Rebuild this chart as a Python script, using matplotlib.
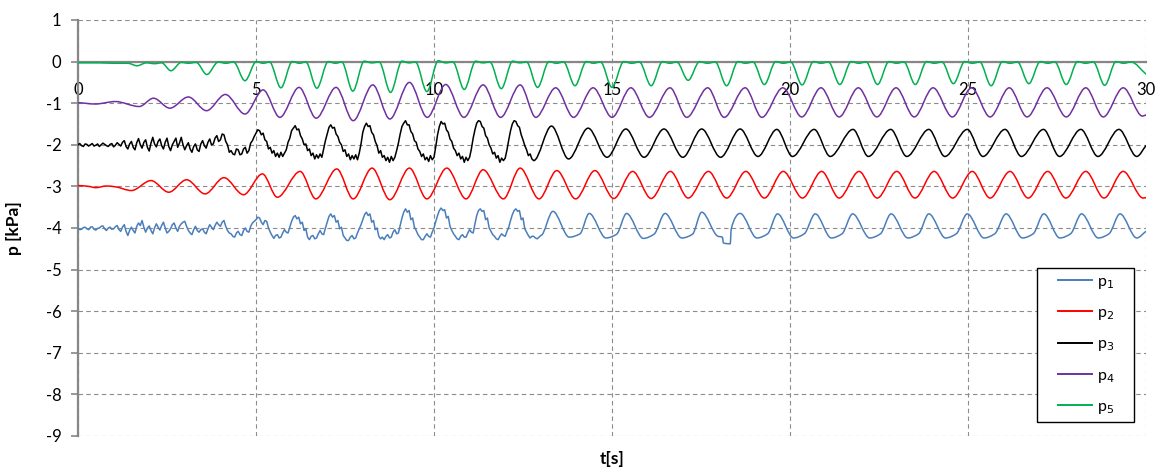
import numpy as np
import matplotlib
matplotlib.use("Agg")
import matplotlib.pyplot as plt
from matplotlib.path import Path
from matplotlib.patches import PathPatch
from matplotlib.lines import Line2D
from matplotlib.legend_handler import HandlerLine2D

plt.rcParams['font.family'] = ['Lato', 'DejaVu Sans']
plt.rcParams['axes.unicode_minus'] = False

# ---------------- data ----------------
SERIES_NAMES = ['p$_1$', 'p$_2$', 'p$_3$', 'p$_4$', 'p$_5$']
SERIES_COLORS = ['#4a7ebb', '#ff0000', '#000000', '#7030a0', '#00b050']

X_TICKS = [0, 5, 10, 15, 20, 25, 30]
Y_TICKS = [1, 0, -1, -2, -3, -4, -5, -6, -7, -8, -9]

# p3 (black): noisy record sampled every 0.05 s from 0 to 12.8 s
p3_noise_t0, p3_noise_dt = 0.0, 0.05
p3_noise_v = [
    -2.00, -1.97, -2.02, -2.04, -1.98, -1.99, -2.03, -2.00, -1.97, -2.03, -2.01, -1.98, -2.04, -2.00, -1.96, -1.99, -2.02, -2.04, -1.99, -1.97,
    -2.05, -2.01, -1.95, -1.99, -2.03, -1.94, -1.90, -2.04, -2.10, -1.98, -1.92, -2.06, -2.12, -1.95, -1.85, -2.00, -2.08, -1.94, -1.88, -2.06,
    -2.15, -1.96, -1.82, -1.98, -2.05, -1.92, -1.86, -2.02, -2.10, -1.94, -1.84, -2.04, -2.14, -2.00, -1.92, -1.84, -2.06, -1.96, -1.82, -2.00,
    -2.12, -2.02, -1.95, -2.10, -2.18, -2.04, -1.98, -2.12, -2.16, -1.98, -1.90, -2.02, -2.08, -1.94, -1.86, -2.00, -1.98, -1.84, -1.78, -1.92,
    -1.88, -1.74, -1.76, -1.92, -2.00, -2.18, -2.14, -2.22, -2.24, -2.10, -2.12, -2.24, -2.22, -2.10, -2.06, -2.20, -2.14, -1.96, -1.90, -1.80,
    -1.72, -1.64, -1.66, -1.76, -1.72, -1.88, -1.92, -2.10, -2.06, -2.20, -2.14, -2.28, -2.20, -2.30, -2.18, -2.28, -2.20, -2.12, -1.94, -1.84,
    -1.66, -1.60, -1.54, -1.64, -1.62, -1.78, -1.86, -2.00, -1.98, -2.14, -2.10, -2.26, -2.20, -2.34, -2.24, -2.32, -2.22, -2.30, -2.10, -1.90,
    -1.74, -1.58, -1.52, -1.60, -1.58, -1.74, -1.80, -1.94, -2.00, -2.16, -2.12, -2.28, -2.22, -2.36, -2.26, -2.34, -2.24, -2.36, -2.20, -1.98,
    -1.70, -1.56, -1.48, -1.56, -1.54, -1.70, -1.76, -1.92, -2.02, -2.20, -2.14, -2.30, -2.26, -2.38, -2.30, -2.42, -2.28, -2.38, -2.30, -2.14,
    -1.96, -1.74, -1.56, -1.48, -1.42, -1.52, -1.52, -1.68, -1.74, -1.90, -1.94, -2.10, -2.16, -2.28, -2.22, -2.36, -2.30, -2.40, -2.26, -2.36,
    -2.30, -2.04, -1.76, -1.56, -1.44, -1.50, -1.48, -1.64, -1.70, -1.86, -1.92, -2.08, -2.14, -2.26, -2.20, -2.34, -2.28, -2.42, -2.30, -2.38,
    -2.30, -2.10, -1.84, -1.64, -1.48, -1.42, -1.44, -1.56, -1.60, -1.78, -1.84, -2.00, -2.08, -2.22, -2.18, -2.32, -2.26, -2.42, -2.32, -2.38,
    -2.32, -2.12, -1.88, -1.66, -1.50, -1.42, -1.44, -1.54, -1.58, -1.76, -1.88, -2.02, -2.12, -2.26, -2.22, -2.34, -2.38]
# p3 smooth part: peaks / troughs
p3_t = [13.30, 13.78, 14.33, 14.86, 15.39, 15.90, 16.46, 16.99, 17.52, 18.05,
        18.60, 19.10, 19.63, 20.07, 20.68, 21.13, 21.77, 22.20, 22.83, 23.28,
        23.90, 24.35, 24.98, 25.42, 26.04, 26.50, 27.12, 27.57, 28.17, 28.65,
        29.24, 29.74, 30.00]
p3_v = [-1.55, -2.34, -1.60, -2.30, -1.62, -2.30, -1.62, -2.30, -1.62, -2.30,
        -1.62, -2.28, -1.63, -2.28, -1.63, -2.28, -1.63, -2.28, -1.63, -2.28,
        -1.63, -2.28, -1.63, -2.28, -1.63, -2.28, -1.63, -2.28, -1.63, -2.28,
        -1.63, -2.28, -2.02]

# p1 (blue): noisy record sampled every 0.05 s from 0 to 13.0 s
p1_noise_t0, p1_noise_dt = 0.0, 0.05
p1_noise_v = [
    -4.00, -4.04, -4.03, -3.99, -3.98, -4.02, -4.04, -3.98, -3.97, -4.03, -4.05, -4.01, -4.00, -3.96, -3.95, -4.02, -4.06, -4.00, -3.98, -4.03,
    -4.02, -3.97, -3.94, -4.04, -4.08, -3.98, -3.92, -4.08, -4.18, -4.06, -3.98, -4.06, -4.12, -3.96, -3.88, -3.94, -3.82, -3.98, -4.10, -4.00,
    -3.95, -4.06, -4.14, -4.00, -3.90, -3.98, -4.05, -3.94, -3.86, -4.00, -4.12, -4.08, -4.02, -3.92, -3.88, -4.00, -4.08, -3.96, -3.90, -3.86,
    -3.84, -3.96, -4.06, -4.12, -4.16, -4.04, -3.96, -4.06, -4.10, -4.04, -4.02, -4.10, -4.14, -4.02, -3.92, -3.98, -4.04, -3.94, -3.86, -3.92,
    -3.96, -3.86, -3.82, -3.96, -4.06, -4.12, -4.14, -4.20, -4.22, -4.12, -4.08, -4.16, -4.18, -4.06, -4.00, -4.08, -4.10, -3.96, -3.88, -3.84,
    -3.80, -3.74, -3.76, -3.86, -3.92, -3.82, -3.84, -4.00, -4.10, -4.18, -4.25, -4.18, -4.16, -4.24, -4.22, -4.12, -4.04, -4.10, -4.12, -3.98,
    -3.84, -3.74, -3.70, -3.78, -3.74, -3.90, -3.86, -4.06, -4.02, -4.22, -4.28, -4.20, -4.18, -4.26, -4.24, -4.14, -4.06, -4.14, -4.16, -4.00,
    -3.86, -3.72, -3.66, -3.74, -3.70, -3.86, -3.82, -4.02, -3.98, -4.18, -4.24, -4.30, -4.30, -4.22, -4.18, -4.26, -4.24, -4.12, -4.02, -3.92,
    -3.80, -3.68, -3.62, -3.70, -3.66, -3.86, -3.82, -4.04, -4.00, -4.20, -4.26, -4.22, -4.28, -4.20, -4.16, -4.24, -4.22, -4.10, -4.04, -4.14,
    -4.12, -3.94, -3.76, -3.62, -3.54, -3.62, -3.58, -3.80, -3.76, -3.98, -4.06, -4.16, -4.22, -4.28, -4.28, -4.20, -4.14, -4.20, -4.22, -4.10,
    -4.00, -3.84, -3.70, -3.58, -3.52, -3.58, -3.56, -3.76, -3.72, -3.96, -4.06, -4.14, -4.20, -4.26, -4.28, -4.20, -4.16, -4.22, -4.22, -4.12,
    -4.04, -4.10, -4.12, -3.90, -3.70, -3.58, -3.54, -3.60, -3.58, -3.80, -3.76, -4.00, -4.08, -4.16, -4.20, -4.26, -4.28, -4.20, -4.14, -4.18,
    -4.20, -4.08, -3.98, -3.82, -3.68, -3.58, -3.54, -3.60, -3.58, -3.80, -3.76, -4.02, -4.10, -4.18, -4.24, -4.20, -4.20, -4.24, -4.26, -4.22,
    -4.18]
# p1 smooth part: peak, trough, shoulder ...
p1_t = [13.34, 13.80, 14.10, 14.36, 14.83, 15.13, 15.41, 15.88, 16.18, 16.49,
        16.96, 17.26, 17.52, 17.98, 18.10, 18.13, 18.32, 18.35, 18.60, 19.07,
        19.37, 19.65, 20.10, 20.40, 20.71, 21.16, 21.46, 21.76, 22.24, 22.54,
        22.84, 23.31, 23.61, 23.90, 24.37, 24.67, 24.98, 25.45, 25.75, 26.07,
        26.53, 26.83, 27.13, 27.58, 27.88, 28.19, 28.66, 28.96, 29.27, 29.74,
        30.00]
p1_v = [-3.60, -4.22, -4.14, -3.65, -4.24, -4.15, -3.65, -4.25, -4.15, -3.65,
        -4.24, -4.15, -3.62, -4.20, -4.22, -4.36, -4.38, -4.02, -3.65, -4.24,
        -4.14, -3.66, -4.24, -4.14, -3.66, -4.24, -4.14, -3.66, -4.24, -4.14,
        -3.66, -4.24, -4.14, -3.66, -4.24, -4.14, -3.66, -4.24, -4.14, -3.66,
        -4.24, -4.14, -3.66, -4.24, -4.14, -3.66, -4.24, -4.14, -3.66, -4.24,
        -4.08]

# p2 (red): peaks / troughs
p2_t = [0.00, 0.30, 0.50, 0.80, 1.05, 1.50, 2.05, 2.55, 3.05, 3.57, 4.10, 4.65,
        5.18, 5.60, 6.24, 6.68, 7.27, 7.73, 8.26, 8.76, 9.31, 9.80,
        10.36, 10.90, 11.38, 11.95, 12.42, 12.95, 13.45, 13.98, 14.52, 15.05,
        15.58, 16.10, 16.64, 17.14, 17.71, 18.22, 18.76, 19.28, 19.81, 20.35,
        20.89, 21.38, 21.94, 22.45, 23.00, 23.51, 24.05, 24.57, 25.12, 25.62,
        26.18, 26.69, 27.24, 27.75, 28.31, 28.82, 29.36, 29.92, 30.00]
p2_v = [-2.98, -3.00, -3.03, -2.99, -3.01, -3.10, -2.86, -3.14, -2.84, -3.18, -2.79, -3.20,
        -2.70, -3.26, -2.64, -3.30, -2.58, -3.30, -2.56, -3.32, -2.56, -3.30,
        -2.56, -3.30, -2.60, -3.30, -2.56, -3.30, -2.62, -3.30, -2.62, -3.29,
        -2.64, -3.29, -2.64, -3.28, -2.64, -3.28, -2.64, -3.28, -2.64, -3.28,
        -2.64, -3.28, -2.64, -3.28, -2.64, -3.28, -2.64, -3.28, -2.64, -3.28,
        -2.64, -3.28, -2.64, -3.28, -2.64, -3.28, -2.64, -3.28, -3.27]

# p4 (purple): peaks / troughs
p4_t = [0.00, 0.48, 1.05, 1.72, 2.12, 2.58, 3.10, 3.61, 4.14, 4.69,
        5.20, 5.67, 6.21, 6.69, 7.25, 7.73, 8.28, 8.76, 9.31, 9.81,
        10.33, 10.84, 11.38, 11.87, 12.42, 12.86, 13.42, 13.92, 14.47, 15.00,
        15.53, 16.05, 16.63, 17.10, 17.69, 18.15, 18.74, 19.21, 19.80, 20.33,
        20.87, 21.38, 21.92, 22.44, 22.98, 23.49, 24.02, 24.56, 25.10, 25.62,
        26.16, 26.66, 27.22, 27.76, 28.31, 28.80, 29.36, 29.90, 30.00]
p4_v = [-0.99, -1.02, -0.96, -1.08, -0.88, -1.12, -0.85, -1.18, -0.79, -1.26,
        -0.68, -1.34, -0.62, -1.36, -0.62, -1.42, -0.56, -1.38, -0.50, -1.34,
        -0.55, -1.34, -0.56, -1.34, -0.56, -1.34, -0.63, -1.34, -0.63, -1.34,
        -0.63, -1.34, -0.63, -1.34, -0.63, -1.34, -0.63, -1.34, -0.63, -1.33,
        -0.63, -1.33, -0.63, -1.33, -0.63, -1.33, -0.63, -1.33, -0.63, -1.33,
        -0.63, -1.33, -0.63, -1.33, -0.63, -1.33, -0.63, -1.31, -1.28]

# p5 (green): plateau points and dips
p5_t = [0.00, 0.60, 1.00, 1.40, 1.66, 1.92, 2.15, 2.35, 2.61, 2.90, 3.10, 3.32,
        3.62, 3.94, 4.15, 4.37, 4.69, 5.01, 5.20, 5.38, 5.70, 6.02, 6.22, 6.40,
        6.71, 7.03, 7.23, 7.41, 7.72, 8.04, 8.25, 8.46, 8.78, 9.10, 9.30, 9.48,
        9.80, 10.12, 10.33, 10.53, 10.85, 11.17, 11.37, 11.57, 11.89, 12.21, 12.41, 12.60,
        12.91, 13.23, 13.44, 13.64, 13.96, 14.28, 14.48, 14.68, 15.00, 15.33, 15.55, 15.77,
        16.10, 16.42, 16.62, 16.82, 17.14, 17.46, 17.68, 17.90, 18.22, 18.54, 18.75, 18.96,
        19.28, 19.60, 19.81, 20.02, 20.34, 20.66, 20.87, 21.08, 21.40, 21.72, 21.93, 22.14,
        22.46, 22.78, 22.99, 23.20, 23.52, 23.84, 24.05, 24.27, 24.59, 24.91, 25.12, 25.33,
        25.65, 25.97, 26.18, 26.39, 26.71, 27.03, 27.24, 27.44, 27.76, 28.08, 28.30, 28.52,
        28.84, 29.16, 29.37, 29.58, 30.00]
p5_v = [-0.03, -0.03, -0.04, -0.04, -0.10, -0.03, -0.05, -0.03, -0.22, -0.02, -0.04, -0.02,
        -0.31, -0.01, -0.04, -0.01, -0.46, 0.00, -0.04, -0.01, -0.63, 0.00, -0.04, -0.01,
        -0.64, 0.00, -0.04, -0.01, -0.71, 0.01, -0.03, -0.01, -0.74, 0.01, -0.03, -0.01,
        -0.72, 0.02, -0.03, -0.01, -0.67, 0.01, -0.03, -0.01, -0.65, 0.01, -0.03, -0.01,
        -0.62, 0.00, -0.04, -0.01, -0.58, 0.00, -0.04, -0.01, -0.62, 0.00, -0.04, -0.01,
        -0.58, 0.00, -0.04, -0.01, -0.45, 0.00, -0.04, -0.01, -0.58, 0.00, -0.04, -0.01,
        -0.55, 0.00, -0.04, -0.01, -0.56, 0.00, -0.04, -0.01, -0.55, 0.00, -0.04, -0.01,
        -0.55, 0.00, -0.04, -0.01, -0.55, 0.00, -0.04, -0.01, -0.53, 0.00, -0.04, -0.01,
        -0.58, 0.00, -0.04, -0.01, -0.53, 0.00, -0.04, -0.01, -0.55, 0.00, -0.04, -0.01,
        -0.57, 0.00, -0.04, -0.01, -0.30]


def series_path(t, v, n_straight=0):
    """Straight segments through the first n_straight samples (noisy record),
    then cubic Bezier segments through the knots (shape-preserving tangents)."""
    t = np.asarray(t, float)
    v = np.asarray(v, float)
    assert len(t) == len(v)
    h = np.diff(t)
    d = np.diff(v) / h
    m = np.zeros_like(v)
    for k in range(max(1, n_straight), len(v) - 1):
        if d[k - 1] * d[k] > 0:
            w1 = 2 * h[k] + h[k - 1]
            w2 = h[k] + 2 * h[k - 1]
            m[k] = (w1 + w2) / (w1 / d[k - 1] + w2 / d[k])
    m[-1] = d[-1]
    if n_straight > 0:
        m[n_straight - 1] = 0.0
    verts = [(t[0], v[0])]
    codes = [Path.MOVETO]
    for k in range(len(t) - 1):
        if k + 1 < n_straight:
            verts.append((t[k + 1], v[k + 1]))
            codes.append(Path.LINETO)
        else:
            s = h[k] / 3.0
            verts += [(t[k] + s, v[k] + m[k] * s),
                      (t[k + 1] - s, v[k + 1] - m[k + 1] * s),
                      (t[k + 1], v[k + 1])]
            codes += [Path.CURVE4] * 3
    return Path(verts, codes)


def with_noise(t0, dt, noise_v, t_rest, v_rest):
    tn = t0 + dt * np.arange(len(noise_v))
    return (np.concatenate([tn, t_rest]), np.concatenate([noise_v, v_rest]),
            len(noise_v))


W, H = 1159, 475
fig = plt.figure(figsize=(W / 100, H / 100), dpi=100)
ax = fig.add_axes([78 / W, 1 - 436 / H, (1146 - 78) / W, (436 - 20) / H])

ax.set_xlim(0, 30)
ax.set_ylim(-9, 1)
ax.set_xticks(X_TICKS)
ax.set_yticks(Y_TICKS)
ax.set_xticklabels([str(x) for x in X_TICKS])
ax.set_yticklabels([str(y) for y in Y_TICKS])

grid_col = '#8c8c8c'
ax.grid(True, color=grid_col, linestyle=(0, (4, 3)), linewidth=0.8, zorder=1)
ax.set_axisbelow(True)

for s in ['top', 'right']:
    ax.spines[s].set_visible(False)
ax.spines['left'].set_color('#868686')
ax.spines['left'].set_linewidth(1.6)
ax.spines['bottom'].set_position(('data', 0))
ax.spines['bottom'].set_color('#868686')
ax.spines['bottom'].set_linewidth(1.6)

ax.tick_params(axis='x', length=0, pad=15, labelsize=12, colors='black')
ax.tick_params(axis='y', length=5, width=1.2, color='#868686', pad=7,
               labelsize=12, labelcolor='black')

series = [
    with_noise(p1_noise_t0, p1_noise_dt, p1_noise_v, p1_t, p1_v),
    (np.asarray(p2_t), np.asarray(p2_v), 0),
    with_noise(p3_noise_t0, p3_noise_dt, p3_noise_v, p3_t, p3_v),
    (np.asarray(p4_t), np.asarray(p4_v), 0),
    (np.asarray(p5_t), np.asarray(p5_v), 0),
]

handles = []
for (t, v, n), col, name in zip(series, SERIES_COLORS, SERIES_NAMES):
    patch = PathPatch(series_path(t, v, n), facecolor='none', edgecolor=col,
                      linewidth=1.1, zorder=3, joinstyle='round', capstyle='round',
                      transform=ax.transData)
    ax.add_patch(patch)
    handles.append(Line2D([], [], color=col, linewidth=1.4, label=name))

ax.set_xlabel('t[s]', fontsize=12.5, fontweight='bold')
ax.xaxis.set_label_coords(0.5, -0.037)
ax.xaxis.label.set_verticalalignment('top')
ax.set_ylabel('p [kPa]', fontsize=12.5, fontweight='bold')
ax.yaxis.set_label_coords(-0.052, 0.5)

fs = 11.5
leg = ax.legend(handles=handles, loc='upper left',
                bbox_to_anchor=(1037 / W, 1 - 421 / H, (1134 - 1037) / W, (421 - 268) / H),
                bbox_transform=fig.transFigure, mode='expand', borderaxespad=0,
                frameon=True, fancybox=False, edgecolor='black', framealpha=1,
                fontsize=fs, labelspacing=0.95, borderpad=0.4,
                handlelength=3.04, handletextpad=0.3,
                handler_map={Line2D: HandlerLine2D(xpad=0.91)})
leg.get_frame().set_linewidth(1.0)
leg.set_zorder(5)

fig.savefig('out.png', dpi=100)
